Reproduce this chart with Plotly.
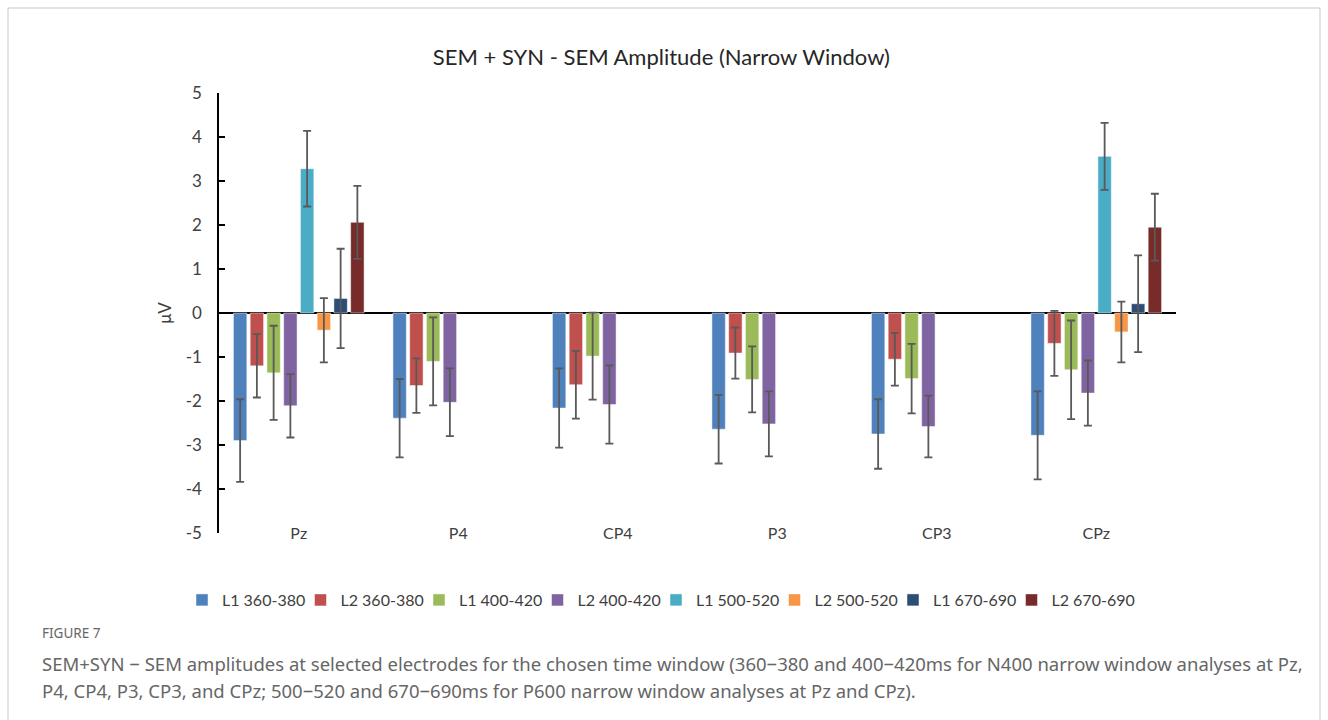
import plotly.graph_objects as go

electrodes = ["Pz", "P4", "CP4", "P3", "CP3", "CPz"]
series_names = ["L1 360-380", "L2 360-380", "L1 400-420", "L2 400-420",
                "L1 500-520", "L2 500-520", "L1 670-690", "L2 670-690"]

l1_360 = [-2.90, -2.39, -2.16, -2.64, -2.75, -2.78]
l2_360 = [-1.20, -1.65, -1.63, -0.91, -1.05, -0.69]
l1_400 = [-1.36, -1.10, -0.98, -1.51, -1.49, -1.29]
l2_400 = [-2.11, -2.03, -2.08, -2.52, -2.58, -1.82]
l1_500 = [3.28, None, None, None, None, 3.56]
l2_500 = [-0.39, None, None, None, None, -0.43]
l1_670 = [0.33, None, None, None, None, 0.21]
l2_670 = [2.06, None, None, None, None, 1.95]

e_l1_360 = [0.94, 0.89, 0.90, 0.78, 0.79, 1.00]
e_l2_360 = [0.72, 0.62, 0.77, 0.58, 0.60, 0.74]
e_l1_400 = [1.07, 1.00, 0.99, 0.75, 0.79, 1.12]
e_l2_400 = [0.72, 0.77, 0.89, 0.74, 0.70, 0.74]
e_l1_500 = [0.86, None, None, None, None, 0.76]
e_l2_500 = [0.73, None, None, None, None, 0.69]
e_l1_670 = [1.13, None, None, None, None, 1.10]
e_l2_670 = [0.83, None, None, None, None, 0.76]

values = [l1_360, l2_360, l1_400, l2_400, l1_500, l2_500, l1_670, l2_670]
errors = [e_l1_360, e_l2_360, e_l1_400, e_l2_400, e_l1_500, e_l2_500, e_l1_670, e_l2_670]
colors = ["#4F81BD", "#C0504D", "#9BBB59", "#8064A2",
          "#4BACC6", "#F79646", "#2C4D75", "#772C2A"]

y_ticks = [5, 4, 3, 2, 1, 0, -1, -2, -3, -4, -5]
y_tick_labels = ["5", "4", "3", "2", "1", "0", "-1", "-2", "-3", "-4", "-5"]

title_text = "SEM + SYN - SEM Amplitude (Narrow Window)"
fig_label = "FIGURE 7"
caption_1 = ("SEM+SYN \u2212 SEM amplitudes at selected electrodes for the chosen time window "
             "(360\u2212380 and 400\u2212420ms for N400 narrow window analyses at Pz,")
caption_2 = ("P4, CP4, P3, CP3, and CPz; 500\u2212520 and 670\u2212690ms for P600 narrow "
             "window analyses at Pz and CPz).")

# plot area in pixels
L, R, T, B = 219, 1176, 93, 533
W, H = R - L, B - T


def px_x(x):
    return (x - L) / W


def px_y(y):
    return (B - y) / H


CHART_FONT = "Lato"
LEG_X0 = 182
LEG_STEP = 118.5

fig = go.Figure()
legend_ids = ["legend"] + ["legend%d" % (k + 2) for k in range(len(series_names) - 1)]
for name, vals, errs, col, lid in zip(series_names, values, errors, colors, legend_ids):
    fig.add_trace(go.Bar(
        name=name, x=electrodes, y=vals, legend=lid,
        marker=dict(color=col, line=dict(color="rgba(255,255,255,0.6)", width=0.8)),
        error_y=dict(type="data", array=errs, visible=True,
                     color="#595959", thickness=1.8, width=4),
    ))

legend_layouts = {}
for k, lid in enumerate(legend_ids):
    legend_layouts[lid] = dict(orientation="h", xanchor="left",
                               x=px_x(LEG_X0 + k * LEG_STEP),
                               y=px_y(600), yanchor="middle",
                               font=dict(family=CHART_FONT, size=16, color="#404040"),
                               itemwidth=30, bgcolor="rgba(0,0,0,0)")

fig.update_layout(
    width=1328, height=720,
    margin=dict(l=L, r=1328 - R, t=T, b=720 - B),
    paper_bgcolor="white", plot_bgcolor="white",
    barmode="group", bargap=0.16, bargroupgap=0.2,
    font=dict(family=CHART_FONT, color="#404040", size=16),
    title=dict(text=title_text, x=0.498, xref="container", xanchor="center",
               y=1 - 57 / 720, yref="container", yanchor="middle",
               font=dict(family=CHART_FONT, size=22, color="#262626")),
    showlegend=True,
    xaxis=dict(showline=False, showgrid=False, ticks="", anchor="free",
               position=px_y(522), tickfont=dict(size=16, color="#404040")),
    yaxis=dict(range=[-5, 5], tickvals=y_ticks, ticktext=y_tick_labels, showgrid=False,
               showline=True, linecolor="#000000", linewidth=1.5,
               ticks="inside", ticklen=6, tickcolor="#000000", tickwidth=1.5,
               ticklabelstandoff=12,
               zeroline=True, zerolinecolor="#000000", zerolinewidth=1.8,
               tickfont=dict(size=17, color="#404040"),
               title=dict(text="\u03bcV", font=dict(size=17, color="#404040"), standoff=10)),
    shapes=[dict(type="rect", xref="paper", yref="paper",
                 x0=px_x(8), x1=px_x(1320), y0=px_y(740), y1=px_y(8),
                 line=dict(color="#c8c8c8", width=1), fillcolor="rgba(0,0,0,0)", layer="below")],
    annotations=[
        dict(text=fig_label, xref="paper", yref="paper", x=px_x(40), y=px_y(633),
             xanchor="left", yanchor="middle", showarrow=False,
             font=dict(family="Noto Sans", size=13.5, color="#666666")),
        dict(text=caption_1, xref="paper", yref="paper", x=px_x(40), y=px_y(663),
             xanchor="left", yanchor="middle", showarrow=False,
             font=dict(family="Noto Sans", size=18.5, color="#666666")),
        dict(text=caption_2, xref="paper", yref="paper", x=px_x(40), y=px_y(690),
             xanchor="left", yanchor="middle", showarrow=False,
             font=dict(family="Noto Sans", size=18.5, color="#666666")),
    ],
    **legend_layouts,
)

fig.write_html("out.html")
